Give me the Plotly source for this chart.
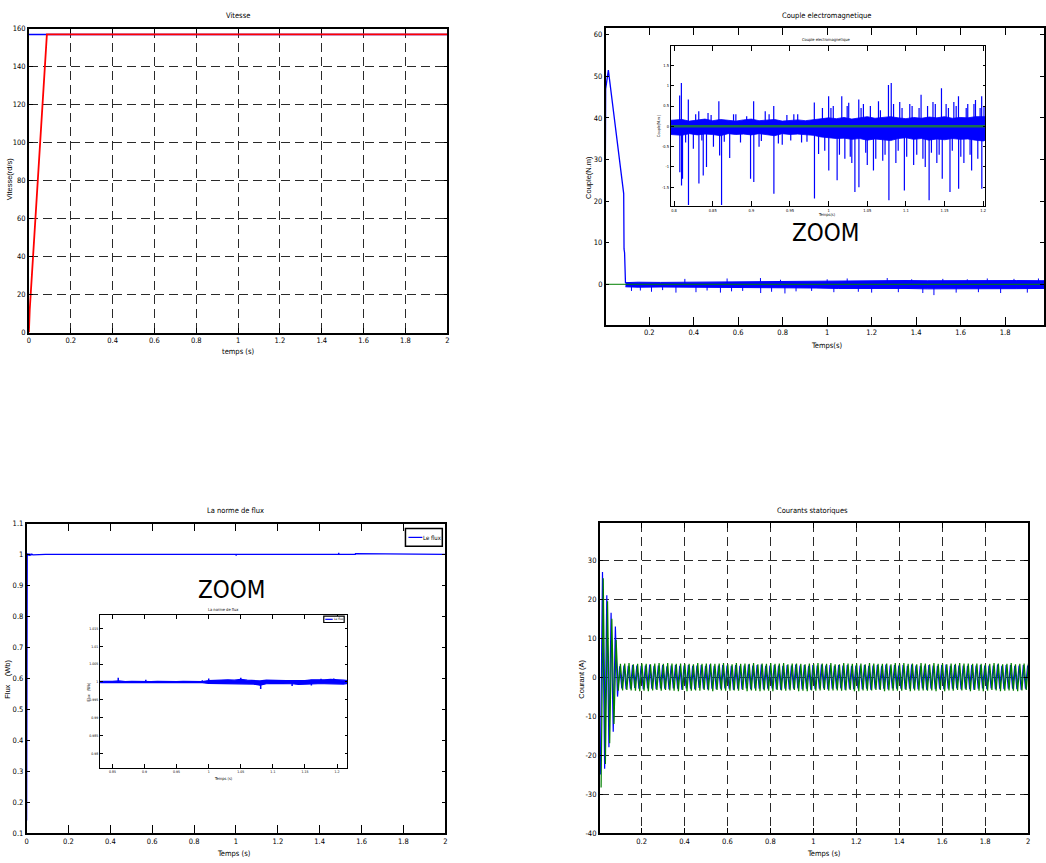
import numpy as np
import plotly.graph_objects as go

W, H = 1046, 863
FONT = "DejaVu Sans Condensed, Liberation Sans Narrow, Arial Narrow, Liberation Sans, Arial, sans-serif"
FONTW = "Liberation Sans, Arial, sans-serif"

# ---------------- Vitesse ----------------
speed_ref_t = [0.0, 2.0]
speed_ref = [157, 157]
speed_t = [0.0, 0.004, 0.086, 2.0]
speed_meas = [0, 12, 157, 157]

# ---------------- Couple electromagnetique ----------------
torque_start_t = [0.0, 0.001, 0.004, 0.016, 0.085, 0.0865, 0.089, 0.093]
torque_start_v = [0, 34, 47, 51.5, 21.8, 8.5, 7.6, 0.3]
torque_band_t = [0.093, 0.15, 0.25, 0.35, 0.45, 0.55, 0.65, 0.75, 0.85, 0.95, 1.05,
                 1.15, 1.25, 1.35, 1.45, 1.55, 1.65, 1.75, 1.85, 1.975]
torque_band_hi = [0.4, 0.5, 0.45, 0.5, 0.55, 0.6, 0.6, 0.7, 0.65, 0.7, 0.8,
                  0.85, 0.8, 0.9, 0.85, 0.9, 0.85, 0.9, 0.9, 0.85]
torque_band_lo = [-0.6, -0.7, -0.65, -0.7, -0.75, -0.8, -0.8, -0.9, -0.85, -0.9, -1.0,
                  -1.0, -1.05, -1.0, -1.1, -1.05, -1.0, -1.1, -1.05, -1.0]
torque_spike_t = [0.12, 0.16, 0.21, 0.26, 0.32, 0.36, 0.41, 0.46, 0.52, 0.55, 0.57, 0.62,
                  0.70, 0.701, 0.75, 0.79, 0.81, 0.86, 0.93, 1.0, 1.03, 1.09, 1.14, 1.2,
                  1.27, 1.32, 1.38, 1.43, 1.48, 1.52, 1.58, 1.63, 1.68, 1.72, 1.78, 1.84,
                  1.9, 1.95]
torque_spike_v = [-1.6, -1.5, -1.8, -1.4, -2.0, 1.3, -1.9, -1.5, -2.0, 1.4, -1.7, -1.6,
                  1.5, -2.1, -1.8, 1.1, -2.2, -1.7, -1.6, 1.2, -1.9, 1.4, -1.8, -2.0,
                  1.5, -1.9, 1.2, -2.1, -2.6, 1.3, -2.0, 1.2, -1.9, 1.4, -2.1, 1.3,
                  -2.0, 1.4]
torque_ref_t = [0.0, 2.0]
torque_ref = [0, 0]

# inset (zoom 0.8 - 1.2 s)
tz_band_t = [0.796, 0.81, 0.82, 0.83, 0.84, 0.85, 0.86, 0.87, 0.88, 0.89, 0.90, 0.91,
             0.92, 0.93, 0.94, 0.95, 0.96, 0.97, 0.98, 0.99, 1.00, 1.01, 1.02, 1.03,
             1.04, 1.05, 1.06, 1.07, 1.08, 1.09, 1.10, 1.11, 1.12, 1.13, 1.14, 1.15,
             1.16, 1.17, 1.18, 1.19, 1.20, 1.203]
tz_band_hi = [0.15, 0.17, 0.13, 0.16, 0.18, 0.14, 0.17, 0.15, 0.13, 0.16, 0.18, 0.14,
              0.15, 0.17, 0.13, 0.15, 0.16, 0.14, 0.16, 0.19, 0.21, 0.19, 0.22, 0.18,
              0.21, 0.24, 0.2, 0.22, 0.24, 0.21, 0.19, 0.22, 0.2, 0.23, 0.21, 0.24,
              0.2, 0.22, 0.21, 0.24, 0.25, 0.24]
tz_band_lo = [-0.2, -0.22, -0.18, -0.21, -0.19, -0.2, -0.23, -0.18, -0.2, -0.19, -0.21, -0.18,
              -0.2, -0.23, -0.18, -0.2, -0.19, -0.2, -0.22, -0.26, -0.28, -0.3, -0.29, -0.32,
              -0.3, -0.34, -0.31, -0.33, -0.35, -0.3, -0.28, -0.32, -0.3, -0.34, -0.31, -0.33,
              -0.3, -0.32, -0.31, -0.34, -0.36, -0.34]
tz_spike_t = [0.8073, 0.8075, 0.8095, 0.8097, 0.811, 0.8185, 0.8187, 0.825, 0.832, 0.8322,
              0.8378, 0.842, 0.844, 0.851, 0.858, 0.859, 0.8615, 0.872, 0.88, 0.899,
              0.903, 0.9032, 0.91, 0.918, 0.929, 0.9292, 0.94, 0.955, 0.965, 0.9815,
              0.9817, 0.987, 0.992, 1.0, 1.0002, 1.006, 1.011, 1.017, 1.021, 1.026,
              1.03, 1.034, 1.039, 1.0392, 1.045, 1.05, 1.058, 1.0645, 1.07, 1.0774,
              1.078, 1.081, 1.087, 1.092, 1.098, 1.105, 1.11, 1.1196, 1.125, 1.13,
              1.135, 1.14, 1.146, 1.147, 1.152, 1.157, 1.162, 1.168, 1.1682, 1.175,
              1.18, 1.185, 1.19, 1.198, 1.1982, 1.201,
              0.995, 1.003, 1.014, 1.024, 1.028, 1.042, 1.048, 1.054, 1.061, 1.067,
              1.073, 1.084, 1.09, 1.095, 1.101, 1.108, 1.114, 1.117, 1.122, 1.128,
              1.133, 1.138, 1.143, 1.155, 1.16, 1.165, 1.171, 1.178, 1.183, 1.188,
              1.193, 1.196,
              0.815, 0.828, 0.836, 0.848, 0.865, 0.877, 0.886, 0.894, 0.913, 0.923,
              0.935, 0.946, 0.951, 0.96, 0.972]
tz_spike_v = [0.76, -1.13, 1.07, -1.46, -1.29, 0.66, -1.94, -0.55, 0.37, -1.41,
              -1.21, -1.0, 0.33, -0.5, 0.62, -0.72, -1.94, -0.78, 0.3, -1.29,
              0.62, -1.37, -0.5, 0.37, 0.5, -1.66, -0.45, 0.3, -0.4, 0.59,
              -1.78, -0.68, 0.45, 0.74, -1.09, 0.5, -1.33, 0.74, -0.8, 0.58,
              -0.9, -1.62, 0.66, -1.5, 0.55, -0.95, -1.09, 0.62, -0.85, 1.02,
              -1.82, 1.07, -0.9, 0.6, -1.58, 0.55, -0.95, 0.78, -1.0, -1.82,
              0.6, -0.9, 0.94, -1.29, 0.55, -1.62, 0.6, 0.74, -1.54, -0.9,
              0.55, -1.09, 0.65, 0.74, -1.54, 0.5,
              -0.6, 0.45, -0.7, 0.5, -0.75, 0.45, -0.65, 0.5, -0.8, 0.4,
              -0.7, 0.55, -0.6, 0.45, -0.75, 0.5, -0.7, 0.45, -0.8, 0.5,
              -0.65, 0.55, -0.7, 0.45, -0.6, 0.5, -0.75, 0.45, -0.7, 0.55,
              -0.8, 0.45,
              -0.4, 0.3, -0.35, 0.28, -0.38, 0.3, -0.4, 0.25, -0.36, 0.3,
              -0.42, 0.28, -0.35, 0.3, -0.38]

# ---------------- La norme de flux ----------------
flux_t = [0.0, 0.0008, 0.0015, 0.003, 0.005, 0.007, 0.009, 0.011, 0.013, 0.016, 0.02,
          0.025, 0.03, 0.086, 0.09, 1.0, 1.001, 1.002, 1.49, 1.491, 1.492, 1.57, 1.571, 2.0]
flux_v = [0.14, 0.7, 0.995, 1.004, 0.996, 1.003, 0.997, 1.003, 0.996, 1.002, 0.998,
          1.001, 0.999, 0.998, 1.0, 1.0, 0.996, 1.0, 1.0, 1.005, 1.0, 1.0, 1.003, 1.0]

fz_band_t = [0.830, 0.84, 0.85, 0.86, 0.87, 0.88, 0.89, 0.90, 0.91, 0.92, 0.93, 0.94,
             0.95, 0.96, 0.97, 0.98, 0.99, 1.00, 1.01, 1.02, 1.03, 1.04, 1.05, 1.06,
             1.07, 1.08, 1.09, 1.10, 1.11, 1.12, 1.13, 1.14, 1.15, 1.16, 1.17, 1.18,
             1.19, 1.20, 1.21, 1.216]
fz_band_hi = [1.0002, 1.0001, 1.0002, 1.0003, 1.0001, 1.0002, 1.0001, 1.0002, 1.0001, 1.0002,
              1.0001, 1.0002, 1.0001, 1.0002, 1.0001, 1.0002, 1.0001, 1.0004, 1.0005, 1.0004,
              1.0006, 1.0005, 1.0007, 1.0005, 1.0004, 1.0003, 1.0005, 1.0004, 1.0005, 1.0004,
              1.0004, 1.0003, 1.0004, 1.0006, 1.0005, 1.0006, 1.0007, 1.0005, 1.0005, 1.0004]
fz_band_lo = [0.9998, 0.9999, 0.9998, 0.9999, 0.9998, 0.9999, 0.9998, 0.9999, 0.9998, 0.9999,
              0.9998, 0.9999, 0.9998, 0.9999, 0.9998, 0.9999, 0.9998, 0.9996, 0.9995, 0.9996,
              0.9995, 0.9996, 0.9995, 0.9994, 0.9994, 0.9991, 0.9995, 0.9996, 0.9995, 0.9996,
              0.9995, 0.9993, 0.9995, 0.9994, 0.9995, 0.9995, 0.9994, 0.9995, 0.9994, 0.9996]
fz_spike_t = [0.859, 0.902, 0.99, 1.0, 1.05, 1.081, 1.13, 1.16, 1.175, 1.195]
fz_spike_v = [1.0012, 1.0006, 1.0005, 1.0010, 1.0012, 0.9980, 0.9989, 0.9990, 1.0009, 1.0010]

# ---------------- Courants statoriques ----------------
cur_a_t0, cur_b_t0, cur_dt = 0.008, 0.0115, 0.01
cur_a = [-25.0, 27.0, -23.5, 21.0, -18.0, 16.5, -14.0, 13.0, -5.0, 2.8,
         -2.9, 3.0, -3.1, 2.9, -3.0, 3.1, -2.8, 3.0, -3.0, 2.9,
         -3.1, 3.0, -2.9, 3.2, -3.0, 2.9, -3.1, 3.0, -2.9, 3.1,
         -3.0, 2.8, -3.1, 3.0, -2.9, 3.1, -3.0, 2.9, -3.2, 3.0,
         -2.9, 3.1, -3.0, 2.9, -3.1, 3.0, -2.8, 3.1, -3.0, 2.9,
         -3.1, 3.2, -3.0, 2.9, -3.1, 3.0, -3.0, 3.1, -2.9, 3.0,
         -3.0, 2.9, -3.2, 3.1, -3.0, 2.9, -3.1, 3.0, -2.9, 3.2,
         -3.1, 3.0, -2.9, 3.1, -3.0, 3.2, -3.1, 2.9, -3.0, 3.0,
         -2.9, 3.1, -3.1, 3.0, -3.2, 2.9, -3.0, 3.1, -3.1, 3.0,
         -3.0, 3.2, -2.9, 3.0, -3.1, 3.1, -3.0, 2.9, -3.2, 3.1,
         -3.1, 3.0, -3.0, 3.2, -2.9, 3.0, -3.1, 3.1, -3.0, 2.9,
         -3.0, 3.1, -2.9, 3.0, -3.2, 3.1, -3.0, 2.9, -3.1, 3.0,
         -2.9, 3.0, -3.1, 3.1, -3.0, 2.9, -3.2, 3.0, -3.0, 3.1,
         -3.1, 2.9, -3.0, 3.2, -3.1, 3.0, -2.9, 3.1, -3.0, 3.0,
         -3.0, 3.1, -3.1, 2.9, -3.0, 3.2, -3.0, 3.0, -3.1, 2.9,
         -2.9, 3.0, -3.2, 3.1, -3.0, 3.0, -3.1, 2.9, -3.0, 3.1,
         -3.1, 3.2, -3.0, 2.9, -3.0, 3.1, -2.9, 3.0, -3.1, 3.0,
         -3.0, 2.9, -3.1, 3.1, -3.2, 3.0, -3.0, 3.1, -2.9, 3.0,
         -3.1, 3.0, -2.9, 3.0, -3.1, 3.2, -3.0, 2.9, -3.1, 3.1,
         -3.0, 3.1, -3.0, 2.9, -3.1, 3.0, -3.2, 3.1, -3.0, 3.0]
cur_b = [-28.3, 25.4, -22.3, 19.5, -17.0, 15.0, -12.0, 9.5, -3.5, 3.4,
         -3.4, 3.5, -3.3, 3.6, -3.4, 3.3, -3.5, 3.4, -3.6, 3.5,
         -3.5, 3.4, -3.6, 3.3, -3.4, 3.5, -3.3, 3.6, -3.5, 3.4,
         -3.3, 3.6, -3.4, 3.5, -3.5, 3.4, -3.6, 3.5, -3.3, 3.4,
         -3.6, 3.4, -3.5, 3.3, -3.4, 3.6, -3.5, 3.4, -3.3, 3.5,
         -3.4, 3.5, -3.6, 3.4, -3.3, 3.5, -3.4, 3.6, -3.5, 3.3,
         -3.5, 3.3, -3.4, 3.6, -3.5, 3.4, -3.3, 3.5, -3.6, 3.4,
         -3.4, 3.6, -3.5, 3.3, -3.6, 3.5, -3.4, 3.4, -3.5, 3.6,
         -3.6, 3.4, -3.3, 3.5, -3.4, 3.6, -3.5, 3.3, -3.4, 3.5,
         -3.3, 3.5, -3.6, 3.4, -3.5, 3.3, -3.6, 3.5, -3.4, 3.4,
         -3.5, 3.6, -3.4, 3.5, -3.3, 3.4, -3.5, 3.6, -3.4, 3.3,
         -3.4, 3.3, -3.5, 3.6, -3.4, 3.5, -3.3, 3.4, -3.6, 3.5,
         -3.6, 3.5, -3.4, 3.3, -3.5, 3.6, -3.4, 3.5, -3.3, 3.4,
         -3.3, 3.4, -3.6, 3.5, -3.4, 3.3, -3.5, 3.6, -3.5, 3.4,
         -3.5, 3.6, -3.3, 3.4, -3.6, 3.5, -3.4, 3.3, -3.5, 3.6,
         -3.4, 3.5, -3.5, 3.3, -3.4, 3.6, -3.6, 3.4, -3.3, 3.5,
         -3.6, 3.3, -3.4, 3.5, -3.5, 3.4, -3.3, 3.6, -3.4, 3.5,
         -3.3, 3.5, -3.6, 3.4, -3.3, 3.5, -3.5, 3.4, -3.6, 3.3,
         -3.5, 3.4, -3.3, 3.6, -3.4, 3.5, -3.6, 3.3, -3.5, 3.4,
         -3.4, 3.6, -3.5, 3.3, -3.6, 3.4, -3.4, 3.5, -3.3, 3.5]

# ---------------- Tick labels ----------------
x_ticks_full = [0, 0.2, 0.4, 0.6, 0.8, 1, 1.2, 1.4, 1.6, 1.8, 2]
x_ticklbl_full = ["0", "0.2", "0.4", "0.6", "0.8", "1", "1.2", "1.4", "1.6", "1.8", "2"]
speed_yticks = [0, 20, 40, 60, 80, 100, 120, 140, 160]
torque_yticks = [0, 10, 20, 30, 40, 50, 60]
tz_xticks = [0.8, 0.85, 0.9, 0.95, 1, 1.05, 1.1, 1.15, 1.2]
tz_xlbl = ["0.8", "0.85", "0.9", "0.95", "1", "1.05", "1.1", "1.15", "1.2"]
tz_yticks = [-1.5, -1, -0.5, 0, 0.5, 1, 1.5]
tz_ylbl = ["-1.5", "-1", "-0.5", "0", "0.5", "1", "1.5"]
flux_yticks = [0.1, 0.2, 0.3, 0.4, 0.5, 0.6, 0.7, 0.8, 0.9, 1.0, 1.1]
flux_ylbl = ["0.1", "0.2", "0.3", "0.4", "0.5", "0.6", "0.7", "0.8", "0.9", "1", "1.1"]
fz_xticks = [0.85, 0.9, 0.95, 1, 1.05, 1.1, 1.15, 1.2]
fz_xlbl = ["0.85", "0.9", "0.95", "1", "1.05", "1.1", "1.15", "1.2"]
fz_yticks = [0.98, 0.985, 0.99, 0.995, 1.0, 1.005, 1.01, 1.015]
fz_ylbl = ["0.98", "0.985", "0.99", "0.995", "1", "1.005", "1.01", "1.015"]
cur_yticks = [-40, -30, -20, -10, 0, 10, 20, 30]

# ---------------- helpers ----------------
def px_x(x0, x1):
    return [x0 / W, x1 / W]

def px_y(top, bottom):
    return [1 - bottom / H, 1 - top / H]

def axis(domain, rng, tickvals, ticktext, ticklen, anchor, grid=False, fs=7.5, lw=1.5):
    d = dict(domain=domain, range=rng, tickmode="array", tickvals=tickvals, ticktext=ticktext,
             ticks="inside", ticklen=ticklen, tickwidth=1, tickcolor="black",
             showline=True, linecolor="black", linewidth=lw, mirror="ticks",
             zeroline=False, showgrid=grid, anchor=anchor, fixedrange=True,
             tickfont=dict(family=FONT, size=fs, color="black"))
    if grid:
        d.update(gridcolor="#2a2a2a", griddash="9px,5px", gridwidth=1.2)
    return d

def spikes(ts, vs, base):
    xs, ys = [], []
    for t, v in zip(ts, vs):
        xs += [t, t, None]
        ys += [base, v, None]
    return xs, ys

def band(ts, hi, lo):
    return list(ts) + list(ts)[::-1], list(hi) + list(lo)[::-1]

fig = go.Figure()
BLUE, RED, GREEN = "#0000ff", "#ff0000", "#008000"

# Panel 1
fig.add_trace(go.Scatter(x=speed_ref_t, y=speed_ref, mode="lines", line=dict(color=BLUE, width=1.5),
                         xaxis="x", yaxis="y", showlegend=False))
fig.add_trace(go.Scatter(x=speed_t, y=speed_meas, mode="lines", line=dict(color=RED, width=1.8),
                         xaxis="x", yaxis="y", showlegend=False))

# Panel 2
bx, by = band(torque_band_t, torque_band_hi, torque_band_lo)
fig.add_trace(go.Scatter(x=bx, y=by, mode="lines", fill="toself", fillcolor=BLUE,
                         line=dict(color=BLUE, width=1), xaxis="x2", yaxis="y2", showlegend=False))
sx, sy = spikes(torque_spike_t, torque_spike_v, 0)
fig.add_trace(go.Scatter(x=sx, y=sy, mode="lines", line=dict(color=BLUE, width=1),
                         xaxis="x2", yaxis="y2", showlegend=False))
fig.add_trace(go.Scatter(x=torque_start_t, y=torque_start_v, mode="lines", line=dict(color=BLUE, width=1.3),
                         xaxis="x2", yaxis="y2", showlegend=False))
fig.add_trace(go.Scatter(x=torque_ref_t, y=torque_ref, mode="lines", line=dict(color=GREEN, width=1),
                         xaxis="x2", yaxis="y2", showlegend=False))

# Inset 2
bx, by = band(tz_band_t, tz_band_hi, tz_band_lo)
fig.add_trace(go.Scatter(x=bx, y=by, mode="lines", fill="toself", fillcolor=BLUE,
                         line=dict(color=BLUE, width=0.8), xaxis="x3", yaxis="y3", showlegend=False))
sx, sy = spikes(tz_spike_t, tz_spike_v, 0)
fig.add_trace(go.Scatter(x=sx, y=sy, mode="lines", line=dict(color=BLUE, width=1.2),
                         xaxis="x3", yaxis="y3", showlegend=False))
fig.add_trace(go.Scatter(x=[0.79, 1.21], y=torque_ref, mode="lines", line=dict(color="#1b6e50", width=2.5),
                         xaxis="x3", yaxis="y3", showlegend=False))

# Panel 3
fig.add_trace(go.Scatter(x=flux_t, y=flux_v, mode="lines", line=dict(color=BLUE, width=1.3),
                         xaxis="x4", yaxis="y4", showlegend=False))
# Inset 3
bx, by = band(fz_band_t, fz_band_hi, fz_band_lo)
fig.add_trace(go.Scatter(x=bx, y=by, mode="lines", fill="toself", fillcolor=BLUE,
                         line=dict(color=BLUE, width=1.2), xaxis="x5", yaxis="y5", showlegend=False))
sx, sy = spikes(fz_spike_t, fz_spike_v, 1.0)
fig.add_trace(go.Scatter(x=sx, y=sy, mode="lines", line=dict(color=BLUE, width=1.5),
                         xaxis="x5", yaxis="y5", showlegend=False))

# Panel 4
ta = cur_a_t0 + cur_dt * np.arange(len(cur_a))
tb = cur_b_t0 + cur_dt * np.arange(len(cur_b))
fig.add_trace(go.Scatter(x=ta, y=cur_a, mode="lines", line=dict(color=BLUE, width=1.2),
                         xaxis="x6", yaxis="y6", showlegend=False))
fig.add_trace(go.Scatter(x=tb, y=cur_b, mode="lines", line=dict(color=GREEN, width=1.2),
                         xaxis="x6", yaxis="y6", showlegend=False))

layout = dict(
    width=W, height=H, margin=dict(l=0, r=0, t=0, b=0),
    paper_bgcolor="white", plot_bgcolor="white", showlegend=False,
    xaxis=axis(px_x(27, 447), [0, 2], x_ticks_full, x_ticklbl_full, 5, "y", grid=True),
    yaxis=axis(px_y(25, 332), [0, 160], speed_yticks, [str(v) for v in speed_yticks], 4, "x", grid=True),
    xaxis2=axis(px_x(606, 1046), [0.004, 1.975], x_ticks_full[1:], x_ticklbl_full[1:], 8, "y2"),
    yaxis2=axis(px_y(24, 324), [-9.7, 61.7], torque_yticks, [str(v) for v in torque_yticks], 4, "x2"),
    xaxis3=axis(px_x(671.5, 987), [0.796, 1.2026], tz_xticks, tz_xlbl, 5, "y3", fs=4, lw=1.3),
    yaxis3=axis(px_y(42.3, 204), [-1.96, 1.985], tz_yticks, tz_ylbl, 2.5, "x3", fs=4, lw=1.3),
    xaxis4=axis(px_x(24.7, 445), [0, 2], x_ticks_full, x_ticklbl_full, 8, "y4"),
    yaxis4=axis(px_y(525, 837.7), [0.1, 1.1], flux_yticks, flux_ylbl, 4, "x4"),
    xaxis5=axis(px_x(98.5, 346.7), [0.8308, 1.2161], fz_xticks, fz_xlbl, 4, "y5", fs=3.5, lw=1.3),
    yaxis5=axis(px_y(617.3, 771.7), [0.976, 1.0188], fz_yticks, fz_ylbl, 2.5, "x5", fs=3.5, lw=1.3),
    xaxis6=axis(px_x(600, 1030), [0.005, 2], x_ticks_full[1:], x_ticklbl_full[1:], 5, "y6", grid=True),
    yaxis6=axis(px_y(524.3, 837.7), [-40, 39.6], cur_yticks, [str(v) for v in cur_yticks], 4, "x6", grid=True),
)
fig.update_layout(**layout)

def txt(s, x, y, size, angle=0, family=FONT):
    fig.add_annotation(text=s, x=x / W, y=1 - y / H, xref="paper", yref="paper",
                       showarrow=False, textangle=angle, xanchor="center", yanchor="middle",
                       font=dict(family=family, size=size, color="black"))

# titles
txt("Vitesse", 237, 12, 7.5)
txt("Couple electromagnetique", 828, 12, 7.5)
txt("Couple electromagnetique", 828, 36, 4)
txt("La norme de flux", 234, 512, 7.5)
txt("La norme de flux", 222, 611.5, 4)
txt("Courants statoriques", 814, 512, 7.5)
# x labels
txt("temps (s)", 237, 351, 7.5)
txt("Temps(s)", 828, 345, 7.5)
txt("Temps(s)", 828, 213, 4)
txt("Temps (s)", 233, 858, 7.5)
txt("Temps (s)", 222, 783, 4)
txt("Temps (s)", 825, 858, 7.5)
# y labels
txt("Vitesse(rd/s)", 7, 177, 7.5, -90, FONTW)
txt("Couple(N.m)", 588, 175, 7.5, -90, FONTW)
txt("Couple(N.m )", 659, 123, 3.8, -90, FONTW)
txt("Flux    (Wb)", 6, 682, 7.5, -90, FONTW)
txt("Flux   (Wb)", 87, 695, 3.8, -90, FONTW)
txt("Courant (A)", 582, 682, 7.5, -90, FONTW)
# ZOOM labels
txt("ZOOM", 827, 231, 24)
txt("ZOOM", 230, 592, 24)

# manual legends
def legend_box(x0, y0, x1, y1, lx0, lx1, ly, tx, size, lw):
    fig.add_shape(type="rect", xref="paper", yref="paper", x0=x0 / W, x1=x1 / W,
                  y0=1 - y1 / H, y1=1 - y0 / H, line=dict(color="black", width=lw),
                  fillcolor="white", layer="above")
    fig.add_shape(type="line", xref="paper", yref="paper", x0=lx0 / W, x1=lx1 / W,
                  y0=1 - ly / H, y1=1 - ly / H, line=dict(color=BLUE, width=1.2), layer="above")
    txt("Le flux", tx, ly, size)

legend_box(405, 530, 442, 548, 408, 422, 539, 432.5, 6, 1.5)
legend_box(323, 618.5, 343.5, 625, 324.5, 332, 621.8, 338, 3.2, 1.2)

fig.write_html("out.html")
